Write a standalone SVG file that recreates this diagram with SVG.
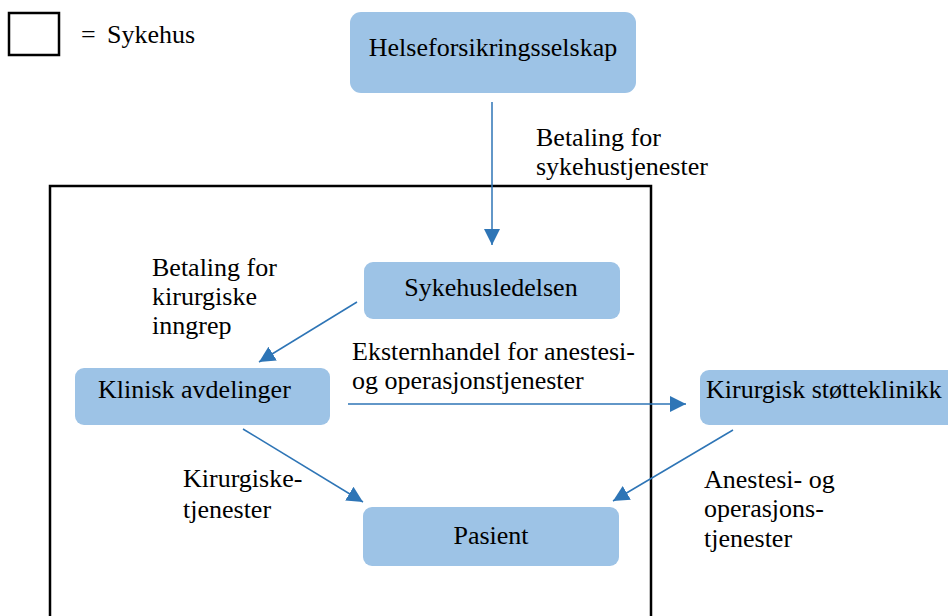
<svg xmlns="http://www.w3.org/2000/svg" width="948" height="616" viewBox="0 0 948 616">
  <style>
    text { font-size: 26px; fill: #000; }
    .node rect { fill: #9dc3e6; stroke: none; }
    .mid { text-anchor: middle; }
    .conn line { stroke: #2e75b6; stroke-width: 1.5; marker-end: url(#arrow); }
    .frame { fill: none; stroke: #000; stroke-width: 2.5; }
  </style>
  <defs>
    <marker id="arrow" markerUnits="userSpaceOnUse" markerWidth="18" markerHeight="18" viewBox="0 0 18 18" refX="16" refY="9" orient="auto">
      <path d="M0,1 L16,9 L0,17 Z" fill="#2e75b6"/>
    </marker>
  </defs>

  <g font-family="'Liberation Serif', 'DejaVu Serif', serif">
  <!-- legend -->
  <g id="legend">
    <rect class="frame" x="9" y="13" width="50" height="42"/>
    <text x="81" y="43">=<tspan x="107">Sykehus</tspan></text>
  </g>

  <!-- hospital boundary -->
  <rect id="hospital" class="frame" x="50" y="186" width="601" height="450"/>

  <g id="helseforsikring" class="node">
    <rect x="350" y="12" width="286" height="81" rx="11"/>
    <text class="mid" x="493" y="56">Helseforsikringsselskap</text>
  </g>

  <g id="sykehusledelsen" class="node">
    <rect x="364" y="262" width="256" height="57" rx="9"/>
    <text class="mid" x="491" y="296">Sykehusledelsen</text>
  </g>

  <g id="klinisk" class="node">
    <rect x="75" y="368" width="255" height="57" rx="9"/>
    <text x="98" y="398">Klinisk avdelinger</text>
  </g>

  <g id="stotteklinikk" class="node">
    <rect x="700" y="370" width="270" height="55" rx="9"/>
    <text x="706" y="398">Kirurgisk støtteklinikk</text>
  </g>

  <g id="pasient" class="node">
    <rect x="363" y="507" width="256" height="59" rx="9"/>
    <text class="mid" x="491" y="544">Pasient</text>
  </g>

  <!-- connectors -->
  <g id="connectors" class="conn">
    <line x1="492" y1="102" x2="492" y2="245"/>
    <line x1="357" y1="302" x2="259" y2="362"/>
    <line x1="348" y1="404" x2="686" y2="404"/>
    <line x1="243" y1="429" x2="363" y2="502"/>
    <line x1="733" y1="430" x2="613" y2="501"/>
  </g>

  <!-- connector labels -->
  <g id="labels">
    <text x="536" y="146">Betaling for</text>
    <text x="536" y="175">sykehustjenester</text>
    <text x="152" y="276">Betaling for</text>
    <text x="152" y="305">kirurgiske</text>
    <text x="152" y="334">inngrep</text>
    <text x="352" y="360">Eksternhandel for anestesi-</text>
    <text x="352" y="389">og operasjonstjenester</text>
    <text x="183" y="487">Kirurgiske-</text>
    <text x="183" y="518">tjenester</text>
    <text x="704" y="488">Anestesi- og</text>
    <text x="704" y="517">operasjons-</text>
    <text x="704" y="547">tjenester</text>
  </g>
  </g>
</svg>
